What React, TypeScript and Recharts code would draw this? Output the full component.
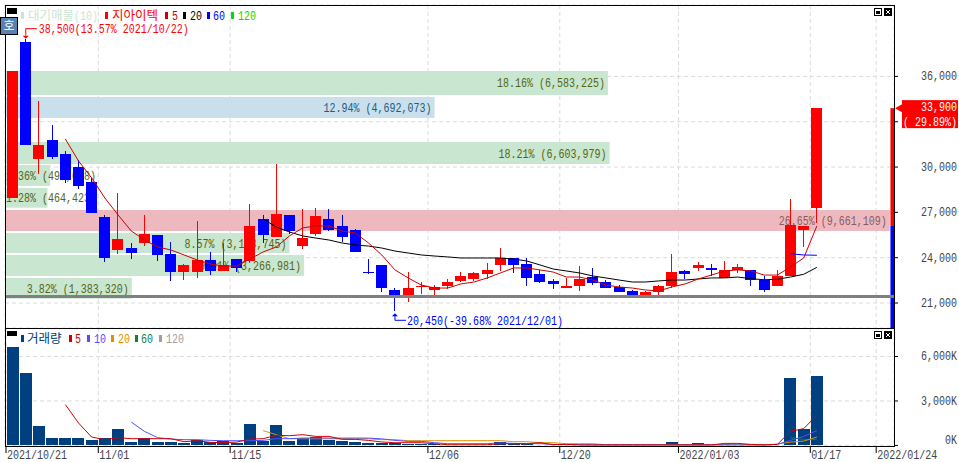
import React from "react";
import {
  ComposedChart, Bar, Line, XAxis, YAxis, CartesianGrid, ReferenceArea, ReferenceLine, ReferenceDot,
} from "recharts";

// ---- categories / axes
const tickPositions = [-0.5, 6.5, 16.5, 31.5, 41.5, 50.5, 60.5, 65.5];
const tickLabels = ["2021/10/21", "11/01", "11/15", "12/06", "12/20", "2022/01/03", "01/17", "2022/01/24"];
const priceTicks = [21000, 24000, 27000, 30000, 33000, 36000];
const volumeTicks = [0, 3000, 6000];

// ---- price series
const opens = [27970,38280,30530,31790,30860,30000,29010,26690,24510,24640,24970,25500,24240,23050,23050,23850,23120,23910,23780,26560,25370,26830,24770,25570,26560,26100,25830,23030,23520,21860,21530,22060,21860,22130,22460,22590,22920,23520,23980,23580,22920,22460,21990,22130,22720,22390,22060,21800,21530,21730,22130,23120,23320,23320,22660,23190,23190,22540,22130,22790,25830,27310];
const highs = [36360,38500,34370,32780,31060,30470,29280,26830,28280,24970,26830,25500,25040,23580,26430,24380,24970,23910,27550,26830,30200,26830,27220,27290,27220,26830,25900,23910,23520,21990,23050,22390,22190,22590,23050,23050,23650,24640,23980,23980,23190,22590,22660,23450,23320,22520,22190,21860,21800,22190,24240,23190,23710,23580,23780,23580,23190,22790,23190,27890,26100,33900];
const lows = [27970,31480,29560,30530,28940,28550,26960,23720,24240,23910,24770,23780,22460,22520,22660,22850,23120,23050,23650,24970,25370,25570,24580,25440,25770,25040,24380,22920,21730,20450,21070,21600,21530,21930,22390,22460,22590,23120,22990,22130,22320,21930,21990,21800,22190,21990,21730,21530,21530,21530,21990,22590,23120,22790,22660,22990,22130,21730,22130,22790,24710,26300];
const closes = [36360,31480,31460,30660,29160,28750,26960,24000,25240,24310,25570,24180,23050,23520,23850,23120,23520,23320,26100,25500,26890,25770,25300,26760,25830,25370,24380,22970,21990,21530,21990,22130,22040,22390,22790,22990,23190,23980,23520,22660,22390,22260,22130,22590,22320,21990,21730,21530,21730,22130,23050,22920,23520,23190,23190,23380,22540,21860,22790,26160,26100,33900];

const ma5Start = 4;
const ma5 = [31860,30400,29280,27950,26830,25770,25170,24710,24510,24180,23850,23580,23450,23450,23910,24380,24710,25440,25970,26100,26100,25770,25630,24970,24180,23190,22660,22190,21990,21990,22260,22390,22660,22990,23320,23320,23190,23050,22720,22720,22520,22190,22060,21990,21860,21800,22060,22260,22590,22850,23120,23190,23120,22850,22850,23380,23980,26100];
const ma20Start = 19;
const ma20 = [26560,26030,25700,25440,25300,25170,24970,24840,24770,24640,24440,24310,24180,24110,24050,23980,23980,23980,23980,23910,23780,23520,23250,23120,22990,22790,22660,22520,22390,22390,22460,22520,22520,22590,22660,22660,22720,22610,22540,22570,22720,22900,23360];
const ma60Start = 59;
const ma60 = [24260,24180,24160];

// ---- volume series (thousands)
const volumes = [6640,4880,1290,494,494,494,339,474,1083,203,474,203,203,135,386,203,271,135,1422,291,1354,271,521,562,339,271,203,135,135,135,68,68,68,34,34,20,20,203,88,68,54,47,34,30,34,30,30,30,30,34,203,30,135,30,68,30,30,30,34,4536,1083,4671];
const vol5Start = 4;
const vol5 = [2755,1510,562,386,521,454,454,454,454,250,318,203,183,223,427,454,677,657,724,609,609,406,406,338,230,183,183,183,115,47,47,47,47,115,115,115,183,47,70,34,34,34,34,34,34,34,34,34,34,34,135,135,68,34,68,948,1131,2031];
const vol10Start = 9;
const vol10 = [1577,948,521,427,386,386,339,318,318,318,339,454,454,494,494,494,494,494,494,440,339,271,271,183,115,115,115,115,169,135,115,115,68,54,47,34,34,34,34,34,34,34,34,34,34,34,34,34,34,68,339,609,995];
const vol20Start = 19;
const vol20 = [995,724,454,447,447,447,447,447,447,386,386,318,318,318,318,318,318,318,318,250,250,183,183,115,115,115,47,47,47,47,47,47,47,47,47,47,47,47,47,88,223,291,562];
const vol60Start = 59;
const vol60 = [521,406,386];

// ---- volume-by-price bands
const bandLow = [34770,33250,30200,28750,27310,25770,24310,22790,21290];
const bandHigh = [36360,34640,31660,30140,28610,27160,25630,24180,22660];
const bandPct = [18.16,12.94,18.21,1.36,1.28,26.65,8.57,9.01,3.82];
const bandVol = ["6,583,225","4,692,073","6,603,979","493,008","464,423","9,661,109","3,108,745","3,266,981","1,383,320"];
const bandFill = ["#c9e6d0","#c9e0ec","#c9e6d0","#c9e6d0","#c9e6d0","#edb9be","#c9e6d0","#c9e6d0","#c9e6d0"];
const bandInk = ["#55650f","#1f5a80","#55650f","#55650f","#55650f","#8a5a60","#55650f","#55650f","#55650f"];

const prevClose = 26100;
const lastClose = 33900;
const supportLine = 21430;
const topHigh = 38500;
const topHighIdx = 1;
const bottomLow = 20450;
const bottomLowIdx = 29;

// ---- layout constants
const xLo = -0.576;
const xHi = 66.85;
const pctToIndex = 2.518;
const priceMin = 19345;
const priceMax = 40728;
const GRID = "#dcdcdc";
const RED = "#ff0000";
const BLUE = "#0000ff";

const at = (list: number[], start: number, i: number) => (i >= start && i - start < list.length ? list[i - start] : null);

const priceRows = opens.map((o, i) => ({
  i, open: o, close: closes[i], range: [lows[i], highs[i]],
  ma5: at(ma5, ma5Start, i), ma20: at(ma20, ma20Start, i), ma60: at(ma60, ma60Start, i),
}));
const volumeRows = volumes.map((v, i) => ({
  i, v, m5: at(vol5, vol5Start, i), m10: at(vol10, vol10Start, i), m20: at(vol20, vol20Start, i), m60: at(vol60, vol60Start, i),
}));

// Gulim-like half-width text: every character takes 6px
function T({ x, y, fill, children, end }: any) {
  const s = String(children);
  const w = s.length * 6;
  return (
    <text x={end ? x - w : x} y={y} fill={fill} fontFamily="'Liberation Mono', monospace" fontSize={13.5}
      textLength={w} lengthAdjust="spacingAndGlyphs" xmlSpace="preserve">{s}</text>
  );
}

function Candle(props: any) {
  const { x, y, width, height, payload } = props;
  const top = Math.min(y, y + height);
  const h = Math.abs(height);
  const [lo, hi] = payload.range;
  const px = hi > lo ? h / (hi - lo) : 0;
  const up = payload.close >= payload.open;
  const color = up ? RED : BLUE;
  const bodyTop = top + (hi - Math.max(payload.open, payload.close)) * px;
  const bodyH = Math.max(1, Math.abs(payload.close - payload.open) * px);
  const cx = Math.floor(x + width / 2) + 0.5;
  return (
    <g shapeRendering="crispEdges">
      <line x1={cx} x2={cx} y1={top} y2={top + h} stroke={color} strokeWidth={1} />
      <rect x={cx - 5.5} y={bodyTop} width={11} height={bodyH} fill={color} />
    </g>
  );
}

function VolumeBar(props: any) {
  const { x, y, width, height, fill } = props;
  return <rect x={Math.floor(x)} y={y} width={width} height={height} fill={fill} shapeRendering="crispEdges" />;
}

function BandShape(props: any) {
  const { x, y, width, height, fill, ink, text } = props;
  const w = text.length * 6;
  const room = width - 3 >= w;
  return (
    <g>
      <rect x={x} y={y} width={width} height={height} fill={fill} />
      <T x={room ? x + width - 3 : x + 1} y={y + height / 2 + 4.5} fill={ink} end={room}>{text}</T>
    </g>
  );
}

function PriceTick(props: any) {
  const { y, payload } = props;
  return (
    <g>
      <line x1={894} x2={898} y1={y} y2={y} stroke="#000" />
      {payload.value === 33000 ? null : <T x={957} y={y + 4} fill="#444" end>{payload.value.toLocaleString("en-US")}</T>}
    </g>
  );
}

function VolumeTick(props: any) {
  const { y, payload } = props;
  const lift = payload.value === 0 ? 5 : 0;
  return (
    <g>
      <line x1={894} x2={898} y1={y} y2={y} stroke="#000" />
      <T x={957} y={y + 4 - lift} fill="#444" end>{`${payload.value.toLocaleString("en-US")}K`}</T>
    </g>
  );
}

function DateTick(props: any) {
  const { x, y, payload } = props;
  const label = tickLabels[tickPositions.indexOf(payload.value)];
  return (
    <g>
      <line x1={x} x2={x} y1={y} y2={y + 7} stroke="#000" />
      <T x={x + 1} y={y + 13} fill="#444">{label}</T>
    </g>
  );
}

function HighMark({ cx, cy }: any) {
  const ly = cy - 10;
  return (
    <g>
      <path d={`M${cx} ${cy - 3} L${cx} ${ly} L${cx + 11} ${ly}`} fill="none" stroke={RED} />
      <path d={`M${cx - 3} ${cy - 3} L${cx + 3} ${cy - 3} L${cx} ${cy} Z`} fill={RED} />
      <T x={cx + 13} y={ly + 4.5} fill={RED}>38,500(13.57% 2021/10/22)</T>
    </g>
  );
}

function LowMark({ cx, cy }: any) {
  const ly = cy + 9;
  return (
    <g>
      <path d={`M${cx} ${cy + 4} L${cx} ${ly} L${cx + 11} ${ly}`} fill="none" stroke={BLUE} />
      <path d={`M${cx - 3} ${cy + 5} L${cx + 3} ${cy + 5} L${cx} ${cy + 2} Z`} fill={BLUE} />
      <T x={cx + 12} y={ly + 4.5} fill={BLUE}>20,450(-39.68% 2021/12/01)</T>
    </g>
  );
}

function LastMark({ cx, cy }: any) {
  return (
    <g>
      <path d={`M${cx + 1} ${cy} L${cx + 8} ${cy - 4} L${cx + 8} ${cy + 4} Z`} fill={RED} />
      <rect x={cx + 8} y={cy - 8} width={56} height={28} fill={RED} />
      <T x={957} y={cy + 3} fill="#fff" end>33,900</T>
      <T x={957} y={cy + 18} fill="#fff" end>( 29.89%)</T>
    </g>
  );
}

function Swatch({ x, y, c }: any) {
  return <rect x={x} y={y} width={3} height={7} fill={c} shapeRendering="crispEdges" />;
}
function Hangul({ x, y, c, children }: any) {
  return <text x={x} y={y} fill={c} fontFamily="'Noto Sans CJK KR'" fontSize={12.5}>{children}</text>;
}
function WinIcons({ y }: any) {
  return (
    <g shapeRendering="crispEdges">
      <rect x={874.5} y={y + 0.5} width={7} height={7} fill="#fff" stroke="#000" />
      <rect x={876} y={y + 3} width={4} height={3} fill="#000" />
      <rect x={884} y={y} width={8} height={8} fill="#000" />
      <path d={`M886 ${y + 2} L890 ${y + 6} M890 ${y + 2} L886 ${y + 6}`} stroke="#fff" />
    </g>
  );
}

function Overlay() {
  return (
    <svg width={959} height={462} style={{ position: "absolute", left: 0, top: 0, pointerEvents: "none" }}>
      <g shapeRendering="crispEdges" stroke="#000" fill="none">
        <path d="M5.5 5.5 L894.5 5.5 L894.5 446.5 L5.5 446.5 Z" />
        <path d="M5.5 328.5 L894.5 328.5" />
      </g>
      {/* price pane header */}
      <rect x={7} y={8} width={10} height={6} fill="#000" />
      <rect x={0.5} y={17.5} width={17} height={17} fill="#5a82b0" stroke="#000" shapeRendering="crispEdges" />
      <text x={9} y={30} textAnchor="middle" fill="#fff" fontFamily="'Noto Sans CJK KR'" fontSize={12}>호</text>
      <Swatch x={21} y={12} c="#c9e6d0" />
      <Hangul x={28} y={20} c="#c9e6d0">대기매물</Hangul>
      <T x={74} y={20} fill="#c9e6d0">(10)</T>
      <Swatch x={105} y={12} c={RED} />
      <Hangul x={112} y={20} c={RED}>지아이텍</Hangul>
      <Swatch x={165} y={12} c="#c80000" />
      <T x={172} y={20} fill="#c80000">5</T>
      <Swatch x={183} y={12} c="#000" />
      <T x={190} y={20} fill="#000">20</T>
      <Swatch x={207} y={12} c={BLUE} />
      <T x={213} y={20} fill={BLUE}>60</T>
      <Swatch x={231} y={12} c="#00e000" />
      <T x={238} y={20} fill="#00e000">120</T>
      <WinIcons y={8} />
      {/* volume pane header */}
      <rect x={7} y={331} width={10} height={5} fill="#000" />
      <Swatch x={21} y={335} c="#004080" />
      <Hangul x={27} y={343} c="#004080">거래량</Hangul>
      <Swatch x={69} y={335} c="#d00000" />
      <T x={75} y={343} fill="#d00000">5</T>
      <Swatch x={87} y={335} c="#5050ff" />
      <T x={94} y={343} fill="#5050ff">10</T>
      <Swatch x={111} y={335} c="#e09000" />
      <T x={118} y={343} fill="#e09000">20</T>
      <Swatch x={135} y={335} c="#108040" />
      <T x={141} y={343} fill="#108040">60</T>
      <Swatch x={159} y={335} c="#a0a0a0" />
      <T x={166} y={343} fill="#a0a0a0">120</T>
      <WinIcons y={331} />
    </svg>
  );
}

export default function App() {
  return (
    <div style={{ position: "absolute", left: 0, top: 0, width: 959, height: 462, background: "#fff", overflow: "hidden" }}>
      <div style={{ position: "absolute", left: 0, top: 0 }}>
        <ComposedChart width={959} height={329} data={priceRows} margin={{ top: 5, left: 5, right: 0, bottom: 1 }}>
          <CartesianGrid stroke={GRID} strokeDasharray="4 3" />
          <XAxis dataKey="i" type="number" domain={[xLo, xHi]} ticks={tickPositions} allowDataOverflow hide />
          <YAxis orientation="right" width={65} domain={[priceMin, priceMax]} type="number"
            ticks={priceTicks} allowDataOverflow interval={0} axisLine={false} tickLine={false} tick={<PriceTick />} />
          {bandPct.map((p, k) => (
            <ReferenceArea key={k} x1={xLo} x2={xLo + p * pctToIndex} y1={bandLow[k]} y2={bandHigh[k]}
              shape={(a: any) => <BandShape {...a} fill={bandFill[k]} ink={bandInk[k]} text={`${p.toFixed(2)}% (${bandVol[k]})`} />} />
          ))}
          <Bar dataKey="range" barSize={11} shape={<Candle />} isAnimationActive={false} />
          <Line dataKey="ma20" stroke="#000" strokeWidth={1} dot={false} isAnimationActive={false} connectNulls={false} />
          <Line dataKey="ma5" stroke="#d00000" strokeWidth={1} dot={false} isAnimationActive={false} connectNulls={false} />
          <Line dataKey="ma60" stroke={BLUE} strokeWidth={1} dot={false} isAnimationActive={false} connectNulls={false} />
          <ReferenceLine y={supportLine} stroke="#808080" strokeWidth={3} />
          <ReferenceArea x1={66.58} x2={xHi} y1={prevClose} y2={lastClose} fill={RED} fillOpacity={1} />
          <ReferenceArea x1={66.58} x2={xHi} y1={priceMin} y2={prevClose} fill={BLUE} fillOpacity={1} />
          <ReferenceDot x={topHighIdx} y={topHigh} r={0} shape={<HighMark />} ifOverflow="visible" />
          <ReferenceDot x={bottomLowIdx} y={bottomLow} r={0} shape={<LowMark />} ifOverflow="visible" />
          <ReferenceDot x={xHi} y={lastClose} r={0} shape={<LastMark />} ifOverflow="visible" />
        </ComposedChart>
      </div>
      <div style={{ position: "absolute", left: 0, top: 328 }}>
        <ComposedChart width={959} height={134} data={volumeRows} margin={{ top: 0, left: 5, right: 0, bottom: 0 }}>
          <CartesianGrid stroke={GRID} strokeDasharray="4 3" />
          <XAxis dataKey="i" type="number" domain={[xLo, xHi]} ticks={tickPositions} allowDataOverflow height={16} interval={0}
            axisLine={false} tickLine={false} tickSize={0} tickMargin={0} tick={<DateTick />} />
          <YAxis orientation="right" width={65} domain={[-40, 7921]} ticks={volumeTicks} allowDataOverflow interval={0}
            axisLine={false} tickLine={false} tick={<VolumeTick />} />
          <Bar dataKey="v" barSize={12} fill="#004080" shape={<VolumeBar />} isAnimationActive={false} />
          <Line dataKey="m60" stroke="#108040" strokeWidth={1} dot={false} isAnimationActive={false} />
          <Line dataKey="m20" stroke="#e09000" strokeWidth={1} dot={false} isAnimationActive={false} />
          <Line dataKey="m10" stroke="#5050ff" strokeWidth={1} dot={false} isAnimationActive={false} />
          <Line dataKey="m5" stroke="#d00000" strokeWidth={1} dot={false} isAnimationActive={false} />
        </ComposedChart>
      </div>
      <Overlay />
    </div>
  );
}
